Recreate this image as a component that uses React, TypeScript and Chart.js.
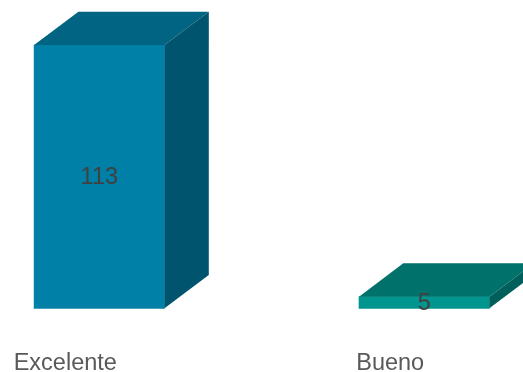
import React, { useEffect, useRef } from "react";
import { Chart, registerables } from "chart.js";
Chart.register(...registerables);

const categories = ["Excelente", "Bueno"];
const values = [113, 5];
const frontColors = ["#0080A7", "#00958E"];
const topColors = ["#006482", "#00716B"];
const sideColors = ["#00546E", "#005F5A"];

const DX = 44.3;
const DY = 33.3;
const FONT = "'Liberation Sans', Arial, sans-serif";

const bar3d = {
  id: "bar3d",
  afterDatasetsDraw(chart: any) {
    const ctx = chart.ctx;
    const meta = chart.getDatasetMeta(0);
    meta.data.forEach((bar: any, i: number) => {
      const { x, y, base, width } = bar.getProps(["x", "y", "base", "width"], true);
      const l = x - width / 2;
      const r = x + width / 2;
      ctx.save();
      ctx.fillStyle = topColors[i];
      ctx.beginPath();
      ctx.moveTo(l, y);
      ctx.lineTo(l + DX, y - DY);
      ctx.lineTo(r + DX, y - DY);
      ctx.lineTo(r, y);
      ctx.closePath();
      ctx.fill();
      ctx.fillStyle = sideColors[i];
      ctx.beginPath();
      ctx.moveTo(r, y);
      ctx.lineTo(r + DX, y - DY);
      ctx.lineTo(r + DX, base - DY);
      ctx.lineTo(r, base);
      ctx.closePath();
      ctx.fill();
      ctx.fillStyle = "#404040";
      ctx.font = `23.5px ${FONT}`;
      ctx.textAlign = "center";
      ctx.textBaseline = "middle";
      ctx.fillText(String(values[i]), x, (y + base) / 2 + 1);
      ctx.restore();
    });
  },
};

export default function App() {
  const ref = useRef<HTMLCanvasElement>(null);
  useEffect(() => {
    if (!ref.current) return;
    const chart = new Chart(ref.current, {
      type: "bar",
      data: {
        labels: categories,
        datasets: [
          {
            data: values,
            backgroundColor: frontColors,
            borderWidth: 0,
            barThickness: 130.4,
            clip: false as any,
          },
        ],
      },
      options: {
        responsive: false,
        animation: false,
        layout: { padding: { top: 45, left: 99.3, right: 98.8, bottom: 0 } },
        plugins: { legend: { display: false }, tooltip: { enabled: false } },
        scales: {
          x: {
            offset: false,
            grid: { display: false, drawTicks: false },
            border: { display: false },
            ticks: {
              color: "#595959",
              font: { size: 23.5, family: FONT },
              padding: 41,
              labelOffset: -34,
              maxRotation: 0,
              autoSkip: false,
            },
            afterFit: (scale: any) => {
              scale.height = 63.7;
            },
          },
          y: { display: false, min: 0, max: 113 },
        },
      },
      plugins: [bar3d],
    });
    return () => chart.destroy();
  }, []);
  return (
    <div style={{ position: "absolute", left: 0, top: 0, width: 523, height: 372 }}>
      <canvas ref={ref} width={523} height={372} style={{ display: "block" }} />
    </div>
  );
}
